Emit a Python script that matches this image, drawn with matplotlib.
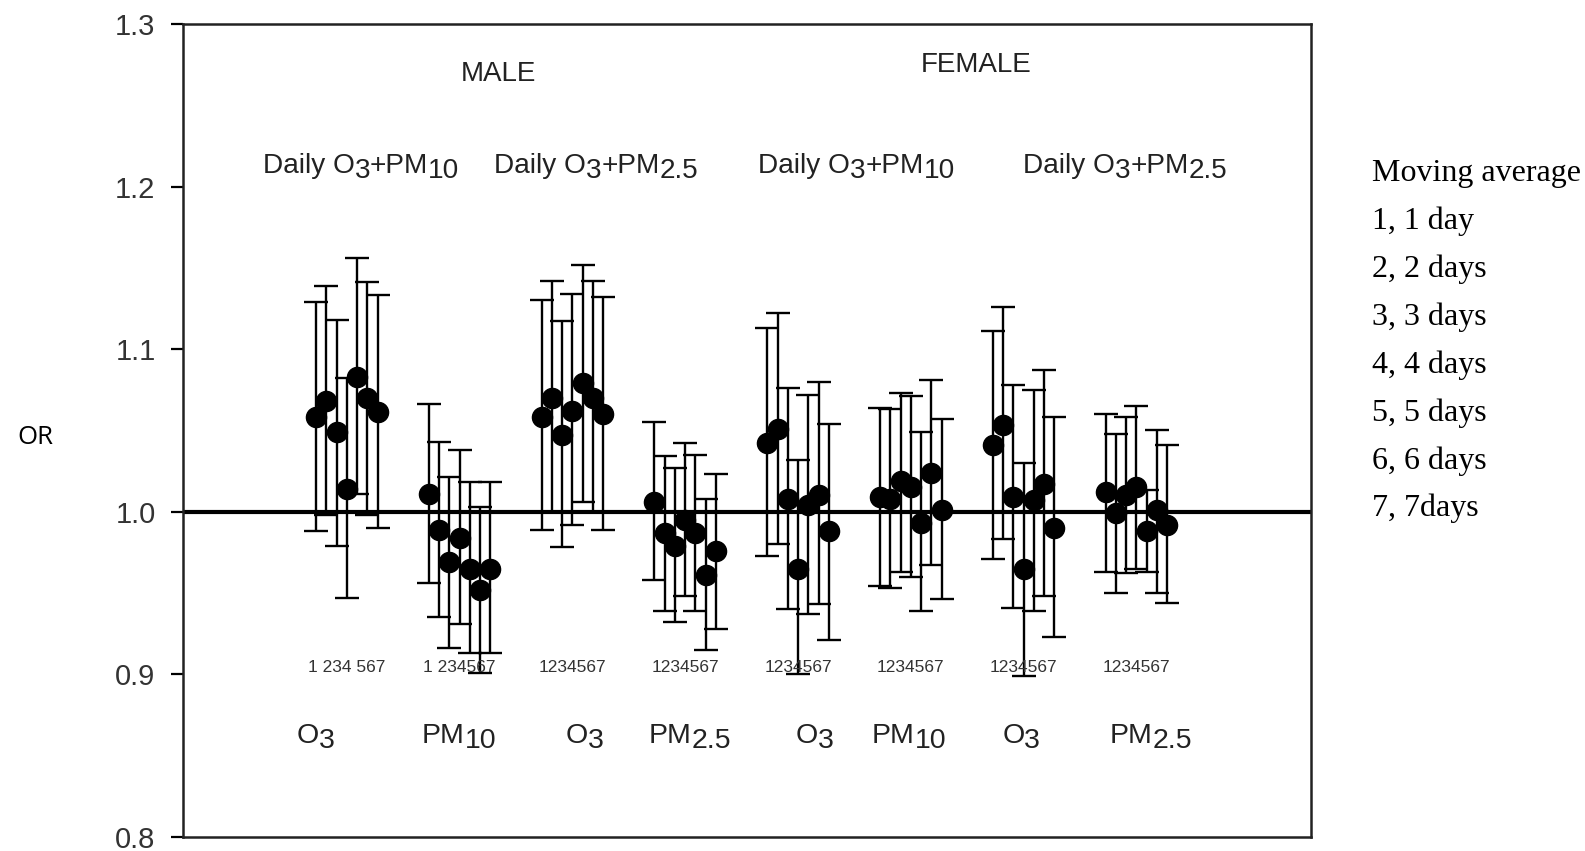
import numpy as np
import matplotlib
matplotlib.use("Agg")
import matplotlib.pyplot as plt
from matplotlib.transforms import ScaledTranslation

plt.rcParams["font.family"] = ["Liberation Sans", "DejaVu Sans"]

# Moving-average lag (days) plotted inside each group
lags = [1, 2, 3, 4, 5, 6, 7]

# Odds ratios with 95% CI, one group per sex / model / pollutant
male_o3_pm10_or = [1.058, 1.068, 1.049, 1.014, 1.083, 1.070, 1.061]
male_o3_pm10_lo = [0.988, 0.998, 0.979, 0.947, 1.011, 0.998, 0.990]
male_o3_pm10_hi = [1.129, 1.139, 1.118, 1.082, 1.156, 1.141, 1.133]

male_pm10_or = [1.011, 0.989, 0.969, 0.984, 0.965, 0.952, 0.965]
male_pm10_lo = [0.956, 0.935, 0.916, 0.931, 0.913, 0.901, 0.913]
male_pm10_hi = [1.066, 1.043, 1.021, 1.038, 1.018, 1.003, 1.018]

male_o3_pm25_or = [1.058, 1.070, 1.047, 1.062, 1.079, 1.070, 1.060]
male_o3_pm25_lo = [0.989, 1.000, 0.978, 0.992, 1.006, 1.000, 0.989]
male_o3_pm25_hi = [1.130, 1.142, 1.117, 1.134, 1.152, 1.142, 1.132]

male_pm25_or = [1.006, 0.987, 0.979, 0.995, 0.987, 0.961, 0.976]
male_pm25_lo = [0.958, 0.939, 0.932, 0.948, 0.939, 0.915, 0.928]
male_pm25_hi = [1.055, 1.034, 1.027, 1.042, 1.035, 1.008, 1.023]

female_o3_pm10_or = [1.042, 1.051, 1.008, 0.965, 1.004, 1.010, 0.988]
female_o3_pm10_lo = [0.973, 0.980, 0.940, 0.900, 0.937, 0.943, 0.921]
female_o3_pm10_hi = [1.113, 1.122, 1.076, 1.032, 1.072, 1.080, 1.054]

female_pm10_or = [1.009, 1.008, 1.019, 1.015, 0.993, 1.024, 1.001]
female_pm10_lo = [0.954, 0.953, 0.963, 0.960, 0.939, 0.967, 0.946]
female_pm10_hi = [1.064, 1.063, 1.073, 1.071, 1.049, 1.081, 1.057]

female_o3_pm25_or = [1.041, 1.053, 1.009, 0.965, 1.007, 1.017, 0.990]
female_o3_pm25_lo = [0.971, 0.983, 0.941, 0.899, 0.939, 0.948, 0.923]
female_o3_pm25_hi = [1.111, 1.126, 1.078, 1.030, 1.075, 1.087, 1.058]

female_pm25_or = [1.012, 0.999, 1.010, 1.015, 0.988, 1.001, 0.992]
female_pm25_lo = [0.963, 0.950, 0.962, 0.965, 0.963, 0.950, 0.944]
female_pm25_hi = [1.060, 1.048, 1.058, 1.065, 1.013, 1.050, 1.041]

groups = [
    (male_o3_pm10_or, male_o3_pm10_lo, male_o3_pm10_hi),
    (male_pm10_or, male_pm10_lo, male_pm10_hi),
    (male_o3_pm25_or, male_o3_pm25_lo, male_o3_pm25_hi),
    (male_pm25_or, male_pm25_lo, male_pm25_hi),
    (female_o3_pm10_or, female_o3_pm10_lo, female_o3_pm10_hi),
    (female_pm10_or, female_pm10_lo, female_pm10_hi),
    (female_o3_pm25_or, female_o3_pm25_lo, female_o3_pm25_hi),
    (female_pm25_or, female_pm25_lo, female_pm25_hi),
]

lag_labels = ["1 234 567", "1 234567", "1234567", "1234567",
              "1234567", "1234567", "1234567", "1234567"]

# label pieces: (text, lowered?)
O3 = [("O", False), ("3", True)]
PM10 = [("PM", False), ("10", True)]
PM25 = [("PM", False), ("2.5", True)]
pollutant_labels = [O3, PM10, O3, PM25, O3, PM10, O3, PM25]
DAILY_PM10 = [("Daily O", False), ("3", True), ("+PM", False), ("10", True)]
DAILY_PM25 = [("Daily O", False), ("3", True), ("+PM", False), ("2.5", True)]
model_labels = [DAILY_PM10, DAILY_PM25, DAILY_PM10, DAILY_PM25]

legend_lines = ["Moving average", "1, 1 day", "2, 2 days", "3, 3 days",
                "4, 4 days", "5, 5 days", "6, 6 days", "7, 7days"]

fig = plt.figure(figsize=(15.85, 8.51), dpi=100)
ax = fig.add_axes([0.1153, 0.0168, 0.7117, 0.9550])
renderer = fig.canvas.get_renderer()


def rich_text(x, y, parts, size, color="#222222", drop_pt=3.6):
    """Centred label built from pieces; digit pieces are set lower."""
    objs = []
    for s, low in parts:
        t = ax.text(x, y, s, fontsize=size, ha="left", va="baseline", color=color)
        objs.append((t, low))
    widths = [t.get_window_extent(renderer).width for t, _ in objs]
    cursor = -sum(widths) / 2.0
    for (t, low), w in zip(objs, widths):
        dy = -drop_pt / 72.0 if low else 0.0
        t.set_transform(ax.transData + ScaledTranslation(cursor / fig.dpi, dy,
                                                         fig.dpi_scale_trans))
        cursor += w


step = 0.091
for g, (orv, lo, hi) in enumerate(groups, start=1):
    orv = np.asarray(orv)
    lo = np.asarray(lo)
    hi = np.asarray(hi)
    x = g + (np.asarray(lags) - 4) * step
    ax.errorbar(x, orv, yerr=[orv - lo, hi - orv], fmt="o", color="black",
                ecolor="black", markersize=14.5, elinewidth=1.7,
                capsize=8.6, capthick=1.7, zorder=3)
    ax.text(g, 0.904, lag_labels[g - 1], ha="center", va="center",
            fontsize=12.5, color="#333333")

ax.axhline(1.0, color="black", lw=3.0, zorder=2)

ax.set_xlim(-0.454, 9.545)
ax.set_ylim(0.8, 1.3)

# pollutant names under each group
pol_x = [0.728, 1.996, 3.113, 4.044, 5.144, 5.986, 6.978, 8.131]
for px, parts in zip(pol_x, pollutant_labels):
    rich_text(px, 0.8575, parts, 20.5)

# model headers
mod_x = [1.127, 3.210, 5.515, 7.900]
for mx, parts in zip(mod_x, model_labels):
    rich_text(mx, 1.2084, parts, 20.2)

ax.text(2.341, 1.269, "MALE", ha="center", va="center", fontsize=20, color="#222222")
ax.text(6.579, 1.275, "FEMALE", ha="center", va="center", fontsize=20, color="#222222")

ax.set_yticks([0.8, 0.9, 1.0, 1.1, 1.2, 1.3])
ax.set_yticklabels(["0.8", "0.9", "1.0", "1.1", "1.2", "1.3"])
ax.set_xticks([])
ax.tick_params(axis="y", direction="out", length=8.6, width=1.6, pad=11,
               labelsize=21, labelcolor="#333333")
for sp in ax.spines.values():
    sp.set_linewidth(1.8)
    sp.set_color("#222222")

fig.text(0.0221, 0.4855, "OR", ha="center", va="center", fontsize=18.5,
         family=["Open Sans", "DejaVu Sans"], color="black")

leg_y = [174, 221.3, 269, 317.4, 365, 413, 461, 508.4]
for yy, line in zip(leg_y, legend_lines):
    fig.text(0.8656, 1 - yy / 851, line, ha="left", va="center", fontsize=23,
             family=["Liberation Serif", "DejaVu Serif"], color="black")

fig.savefig("out.png", dpi=100, facecolor="white")
